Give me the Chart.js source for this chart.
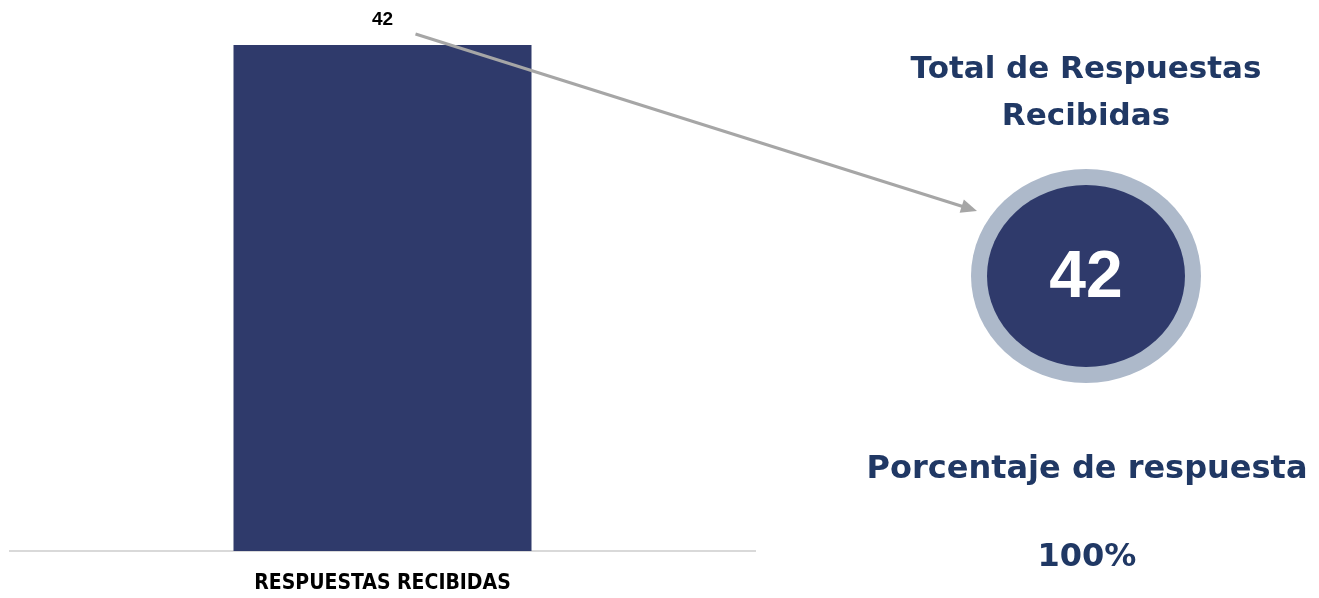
<!DOCTYPE html>
<html>
<head>
<meta charset="utf-8">
<script src="https://cdn.jsdelivr.net/npm/chart.js@4/dist/chart.umd.min.js"></script>
<style>
  body { margin: 0; background: #fff; }
  canvas { display: block; }
</style>
</head>
<body>
<canvas id="myChart" width="1319" height="598"></canvas>
<script>
const categories = ['RESPUESTAS RECIBIDAS'];
const responses = [42];
const totalTitle = ['Total de Respuestas', 'Recibidas'];
const percentTitle = 'Porcentaje de respuesta';
const percentValue = [100];

const navy = '#2f3a6b';
const textBlue = '#203864';

// draws the value label, the arrow and the summary panel on the right
const summaryPlugin = {
    id: 'summary',
    afterDatasetsDraw(chart) {
        const ctx = chart.ctx;
        const bar = chart.getDatasetMeta(0).data[0];
        ctx.save();

        // value above the bar
        ctx.fillStyle = '#000';
        ctx.font = 'bold 19px "Liberation Sans", Arial, sans-serif';
        ctx.textAlign = 'center';
        ctx.textBaseline = 'middle';
        ctx.fillText(String(responses[0]), bar.x, bar.y - 25);

        // arrow
        const x1 = bar.x + 33, y1 = bar.y - 11, x2 = 977, y2 = 211;
        const ang = Math.atan2(y2 - y1, x2 - x1);
        ctx.strokeStyle = '#a6a6a6';
        ctx.fillStyle = '#a6a6a6';
        ctx.lineWidth = 3;
        ctx.beginPath();
        ctx.moveTo(x1, y1);
        ctx.lineTo(x2 - 10 * Math.cos(ang), y2 - 10 * Math.sin(ang));
        ctx.stroke();
        ctx.beginPath();
        ctx.moveTo(x2, y2);
        ctx.lineTo(x2 - 16 * Math.cos(ang) + 7 * Math.sin(ang), y2 - 16 * Math.sin(ang) - 7 * Math.cos(ang));
        ctx.lineTo(x2 - 16 * Math.cos(ang) - 7 * Math.sin(ang), y2 - 16 * Math.sin(ang) + 7 * Math.cos(ang));
        ctx.closePath();
        ctx.fill();

        // titles
        const cx = 1086;
        ctx.fillStyle = textBlue;
        ctx.textBaseline = 'alphabetic';
        ctx.font = 'bold 31px "DejaVu Sans", sans-serif';
        ctx.fillText(totalTitle[0], cx, 78);
        ctx.fillText(totalTitle[1], cx, 125);

        // ring + disc
        ctx.fillStyle = '#adb9ca';
        ctx.beginPath();
        ctx.ellipse(cx, 276, 115, 107, 0, 0, Math.PI * 2);
        ctx.fill();
        ctx.fillStyle = navy;
        ctx.beginPath();
        ctx.ellipse(cx, 276, 99, 91, 0, 0, Math.PI * 2);
        ctx.fill();
        ctx.fillStyle = '#fff';
        ctx.font = 'bold 66px "Liberation Sans", Arial, sans-serif';
        ctx.textBaseline = 'middle';
        ctx.fillText(String(responses.reduce((a, b) => a + b, 0)), cx, 279);

        ctx.fillStyle = textBlue;
        ctx.textBaseline = 'alphabetic';
        ctx.font = 'bold 32px "DejaVu Sans", sans-serif';
        ctx.fillText(percentTitle, 1087, 478);
        ctx.fillText(percentValue[0] + '%', 1087, 566);
        ctx.restore();
    }
};

document.addEventListener('DOMContentLoaded', () => {
    const ctx = document.getElementById('myChart').getContext('2d');
    const myChart = new Chart(ctx, {
        type: 'bar',
        data: {
            labels: categories,
            datasets: [{
                label: 'Respuestas',
                data: responses,
                backgroundColor: navy,
                borderWidth: 0,
                barPercentage: 0.8,
                categoryPercentage: 0.5
            }]
        },
        options: {
            responsive: false,
            animation: false,
            layout: { padding: { left: 10, right: 564, top: 45, bottom: 0 } },
            plugins: { legend: { display: false }, tooltip: { enabled: false } },
            scales: {
                x: {
                    afterFit: (scale) => { scale.height = 47; },
                    grid: { display: false, drawTicks: false },
                    border: { display: true, color: '#d9d9d9', width: 2 },
                    ticks: {
                        color: '#000',
                        padding: 20,
                        font: { family: '"Liberation Sans Narrow", "DejaVu Sans Condensed", sans-serif', size: 21, weight: 'bold' }
                    }
                },
                y: {
                    display: false,
                    beginAtZero: true,
                    max: 42
                }
            }
        },
        plugins: [summaryPlugin]
    });
});
</script>
</body>
</html>
